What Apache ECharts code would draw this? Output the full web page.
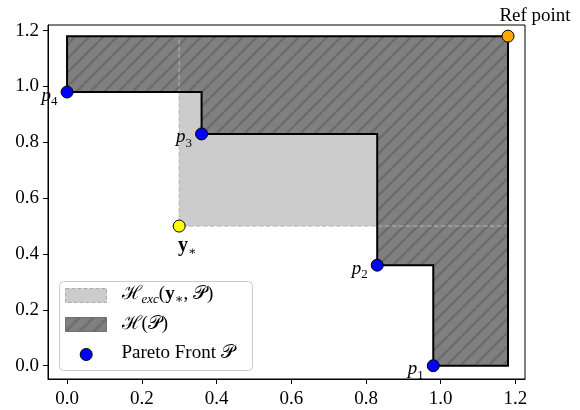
<!DOCTYPE html>
<html><head><meta charset="utf-8">
<script src="https://cdn.jsdelivr.net/npm/echarts@6/dist/echarts.min.js"></script>
<style>html,body{margin:0;padding:0;background:#fff}#c{width:580px;height:410px}</style>
</head><body><div id="c"></div>
<script>
// ---- data ----
const paretoX = [0.98, 0.83, 0.36, 0.0];
const paretoY = [0.0, 0.36, 0.83, 0.98];
const paretoIdx = ['1', '2', '3', '4'];
const refPoint = [1.18, 1.18];
const yStar = [0.30, 0.50];
const xTicks = [0.0, 0.2, 0.4, 0.6, 0.8, 1.0, 1.2];
const yTicks = [0.0, 0.2, 0.4, 0.6, 0.8, 1.0, 1.2];
const refLabel = 'Ref point';
const legendFront = 'Pareto Front ';

const FONT = "'Liberation Serif', 'DejaVu Serif', serif";

function makeHatch(bg, fg, s, lw) {
  const c = document.createElement('canvas');
  c.width = s; c.height = s;
  const g = c.getContext('2d');
  g.fillStyle = bg; g.fillRect(0, 0, s, s);
  g.strokeStyle = fg; g.lineWidth = lw;
  for (let k = -1; k <= 1; k++) {
    g.beginPath();
    g.moveTo(k * s, s);
    g.lineTo(k * s + s, 0);
    g.stroke();
  }
  return { image: c, repeat: 'repeat' };
}
const hatch = makeHatch('#808080', '#6c6c6c', 14, 2.5);

function hvPolygon() {
  const pts = paretoX.map((x, i) => [x, paretoY[i]]).sort((a, b) => a[0] - b[0]);
  const n = pts.length;
  const v = [];
  v.push([pts[0][0], refPoint[1]]);
  v.push([refPoint[0], refPoint[1]]);
  v.push([refPoint[0], pts[n - 1][1]]);
  for (let i = n - 1; i >= 1; i--) {
    v.push([pts[i][0], pts[i][1]]);
    v.push([pts[i][0], pts[i - 1][1]]);
  }
  v.push([pts[0][0], pts[0][1]]);
  return v;
}

const chart = echarts.init(document.getElementById('c'), null, { renderer: 'canvas' });

const axisCommon = {
  type: 'value',
  axisLine: { show: true, onZero: false, lineStyle: { color: '#000', width: 1 } },
  splitLine: { show: false },
  axisLabel: { color: '#000', fontSize: 19, fontFamily: FONT, margin: 9, formatter: v => v.toFixed(1) },
  axisTick: { show: true, length: 5, lineStyle: { color: '#000', width: 1 } }
};

const option = {
  animation: false,
  backgroundColor: '#fff',
  grid: { left: 48, right: 55, top: 25, bottom: 31, show: true, borderColor: '#000', borderWidth: 1, backgroundColor: 'transparent' },
  xAxis: Object.assign({}, axisCommon, {
    min: -0.051, max: 1.2255,
    axisTick: Object.assign({}, axisCommon.axisTick, { customValues: xTicks }),
    axisLabel: Object.assign({}, axisCommon.axisLabel, { customValues: xTicks, margin: 11 })
  }),
  yAxis: Object.assign({}, axisCommon, {
    min: -0.0476, max: 1.220,
    axisTick: Object.assign({}, axisCommon.axisTick, { customValues: yTicks }),
    axisLabel: Object.assign({}, axisCommon.axisLabel, { customValues: yTicks })
  }),
  series: [
    {
      type: 'custom',
      z: 1,
      data: [[yStar[0], yStar[1], refPoint[0], refPoint[1]]],
      renderItem: (params, api) => {
        const a = api.coord([api.value(0), api.value(1)]);
        const b = api.coord([api.value(2), api.value(3)]);
        const poly = hvPolygon().map(p => api.coord(p));
        const rx = Math.min(a[0], b[0]), ry = Math.min(a[1], b[1]);
        const rw = Math.abs(b[0] - a[0]), rh = Math.abs(b[1] - a[1]);
        return {
          type: 'group',
          children: [
            { type: 'rect', shape: { x: rx, y: ry, width: rw, height: rh }, style: { fill: '#cccccc', stroke: null } },
            { type: 'polygon', shape: { points: poly }, style: { fill: hatch, stroke: null } },
            { type: 'rect', shape: { x: rx, y: ry, width: rw, height: rh }, style: { fill: null, stroke: '#b4b4b4', lineWidth: 1, lineDash: [5, 2] } },
            { type: 'polygon', shape: { points: poly }, style: { fill: null, stroke: '#000', lineWidth: 2 } }
          ]
        };
      }
    },
    {
      type: 'scatter',
      z: 5,
      symbol: 'circle',
      symbolSize: 12,
      itemStyle: { color: '#0000ff', borderColor: '#000', borderWidth: 1, opacity: 1 },
      data: paretoX.map((x, i) => [x, paretoY[i]]),
      label: {
        show: true, position: 'left', distance: 3, offset: [0, 5],
        formatter: p => '{p|p}{s|' + paretoIdx[p.dataIndex] + '}',
        rich: {
          p: { fontFamily: FONT, fontStyle: 'italic', fontSize: 19, color: '#000', lineHeight: 22, verticalAlign: 'top' },
          s: { fontFamily: FONT, fontSize: 13, color: '#000', lineHeight: 12, verticalAlign: 'bottom' }
        }
      }
    },
    {
      type: 'scatter',
      z: 5,
      symbolSize: 12,
      itemStyle: { color: '#ffa500', borderColor: '#000', borderWidth: 1, opacity: 1 },
      data: [refPoint],
      label: { show: true, position: 'top', distance: 4, offset: [27, 0], formatter: refLabel, color: '#000', fontSize: 19, fontFamily: FONT }
    },
    {
      type: 'scatter',
      z: 5,
      symbolSize: 12,
      itemStyle: { color: '#ffff00', borderColor: '#000', borderWidth: 1, opacity: 1 },
      data: [yStar],
      label: {
        show: true, position: 'bottom', distance: 3, offset: [8, 0],
        formatter: '{b|y}{s|∗}',
        rich: {
          b: { fontFamily: FONT, fontWeight: 'bold', fontSize: 20, color: '#000', lineHeight: 22, verticalAlign: 'top' },
          s: { fontFamily: FONT, fontSize: 12, color: '#000', lineHeight: 12, verticalAlign: 'bottom' }
        }
      }
    }
  ],
  graphic: [
    {
      type: 'group', z: 100, left: 59, top: 281,
      children: [
        { type: 'rect', shape: { x: 0, y: 0, width: 193, height: 89, r: 4 }, style: { fill: 'rgba(255,255,255,0.8)', stroke: '#cccccc', lineWidth: 1 } },
        { type: 'rect', shape: { x: 6, y: 7, width: 41, height: 14 }, style: { fill: '#cccccc', stroke: '#aaaaaa', lineWidth: 1, lineDash: [4, 2] } },
        { type: 'rect', shape: { x: 6, y: 36, width: 41, height: 14 }, style: { fill: hatch, stroke: '#707070', lineWidth: 1 } },
        { type: 'circle', shape: { cx: 26.7, cy: 73, r: 6 }, style: { fill: '#0000ff', stroke: '#000', lineWidth: 1 } },
        {
          type: 'text', x: 62, y: 14,
          style: {
            text: '{H|ℋ}{sub|exc}{t|(}{b|y}{sub|∗}{t|, }{H|𝒫}{t|)}',
            verticalAlign: 'middle', align: 'left',
            rich: {
              H: { fontFamily: FONT, fontSize: 19, fill: '#000', lineHeight: 22, verticalAlign: 'top' },
              t: { fontFamily: FONT, fontSize: 19, fill: '#000', lineHeight: 22, verticalAlign: 'top' },
              b: { fontFamily: FONT, fontSize: 19, fontWeight: 'bold', fill: '#000', lineHeight: 22, verticalAlign: 'top' },
              sub: { fontFamily: FONT, fontSize: 13, fontStyle: 'italic', fill: '#000', lineHeight: 12, verticalAlign: 'bottom' }
            }
          }
        },
        {
          type: 'text', x: 62, y: 43,
          style: { text: 'ℋ(𝒫)', verticalAlign: 'middle', align: 'left', fontFamily: FONT, fontSize: 19, fill: '#000' }
        },
        {
          type: 'text', x: 62, y: 72,
          style: { text: legendFront + '𝒫', verticalAlign: 'middle', align: 'left', fontFamily: FONT, fontSize: 19, fill: '#000' }
        }
      ]
    }
  ]
};
chart.setOption(option);
</script>
</body></html>
